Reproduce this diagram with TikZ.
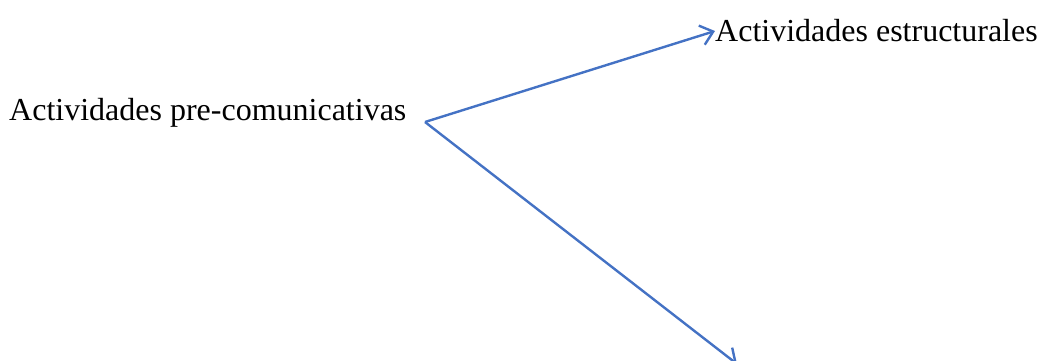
\documentclass[tikz,border=0pt]{standalone}
\usepackage{fontspec}
\setmainfont{Liberation Serif}
\usetikzlibrary{arrows.meta}
\definecolor{linkblue}{RGB}{68,114,196}

\begin{document}
\begin{tikzpicture}[x=1pt, y=-1pt,
    label/.style={inner sep=0pt, anchor=west, font=\fontsize{32}{38}\selectfont},
    arr/.style={-{Straight Barb[length=12pt, width=20pt, line width=2.4pt]}, line width=2.4pt, color=linkblue}
  ]
    \useasboundingbox (0,0) rectangle (1039,360);
    \node[label] (pre) at (9,113) {Actividades pre-comunicativas};
    \node[label] (est) at (715,31) {Actividades estructurales};
    \coordinate (split) at (425,122);
    \coordinate (low) at (737,364);

    \draw[arr] (split) -- (est.west);
    \draw[arr] (split) -- (low);
  \end{tikzpicture}
\end{document}
